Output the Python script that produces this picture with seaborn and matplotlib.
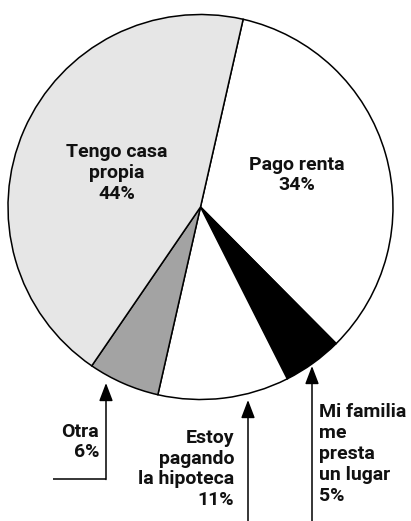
import matplotlib
matplotlib.use("Agg")
import matplotlib.pyplot as plt
import seaborn as sns

# Data (clockwise from the top)
categories = ["Pago renta", "Mi familia me presta un lugar", "Estoy pagando la hipoteca", "Otra", "Tengo casa propia"]
values = [34, 5, 11, 6, 44]
slice_colors = ["#ffffff", "#000000", "#ffffff", "#a3a3a3", "#e6e6e6"]
label_texts = ["Pago renta\n34%", "Mi familia\nme\npresta\nun lugar\n5%",
               "Estoy\npagando\nla hipoteca\n11%", "Otra\n6%", "Tengo casa\npropia\n44%"]

sns.set_theme(style="white")
plt.rcParams['font.family'] = ['Roboto', 'DejaVu Sans']

W, H = 411, 521
fig = plt.figure(figsize=(W / 100, H / 100), dpi=100)
ax = fig.add_axes([0, 0, 1, 1])
ax.set_xlim(0, W)
ax.set_ylim(0, H)
ax.set_aspect("equal")
ax.axis("off")

def Y(y):
    return H - y

cx, cy, r = 200.5, Y(207), 192.5
ax.pie(values, colors=slice_colors, startangle=77.2, counterclock=False,
       center=(cx, cy), radius=r,
       wedgeprops=dict(edgecolor="black", linewidth=1.1), frame=True)
ax.set_xlim(0, W)
ax.set_ylim(0, H)
ax.axis("off")

fs = 14
tkw = dict(fontsize=fs, fontweight="bold", color="#111111", linespacing=1.2)

# inside labels
ax.text(117, Y(173), label_texts[4], ha="center", va="center", **tkw)
ax.text(297, Y(175), label_texts[0], ha="center", va="center", **tkw)

# outside labels
ax.text(99, Y(442), label_texts[3], ha="right", va="center", **tkw)
ax.text(234, Y(469), label_texts[2], ha="right", va="center", **tkw)
ax.text(319, Y(454), label_texts[1], ha="left", va="center", **tkw)

akw = dict(arrowstyle="-|>,head_length=1.1,head_width=0.42", color="black",
           lw=1.1, mutation_scale=10, shrinkA=0, shrinkB=0)

# Otra arrow with elbow
ax.plot([53, 106], [Y(479), Y(479)], color="black", lw=1.1, solid_capstyle="butt")
ax.annotate("", xy=(106, Y(383)), xytext=(106, Y(479.5)), arrowprops=akw)
# Estoy pagando arrow
ax.annotate("", xy=(248, Y(400)), xytext=(248, Y(523)), arrowprops=akw)
# Mi familia arrow
ax.annotate("", xy=(312, Y(366)), xytext=(312, Y(523)), arrowprops=akw)

fig.savefig("out.png", dpi=100, facecolor="white")
